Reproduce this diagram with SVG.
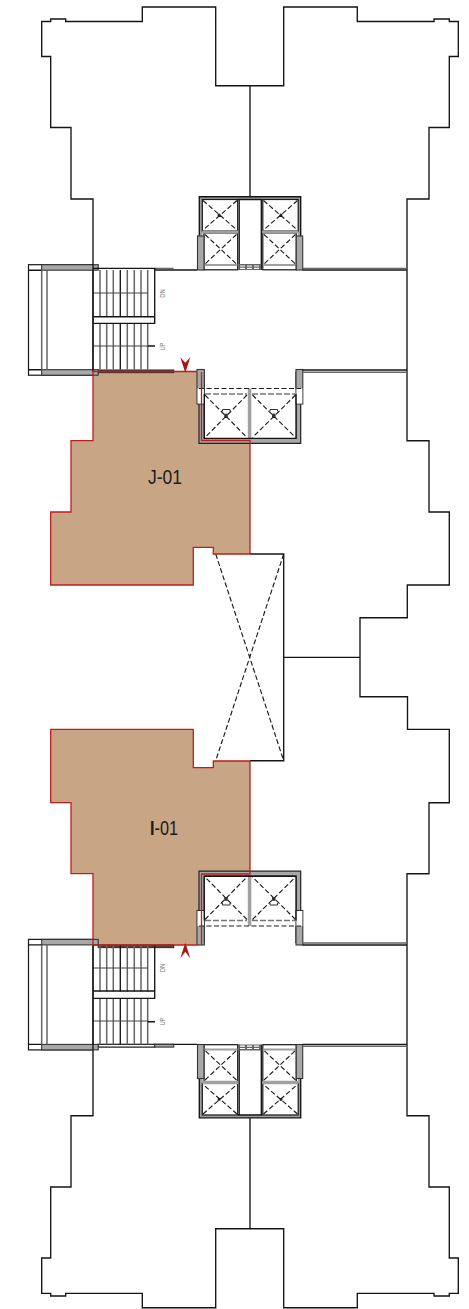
<svg xmlns="http://www.w3.org/2000/svg" width="469" height="1309" viewBox="0 0 469 1309">
<style>
.l{fill:none;stroke:#151515;stroke-width:1.35}
.g{fill:none;stroke:#666;stroke-width:1.5}
.w{fill:#a8a8a8;stroke:#333;stroke-width:1.1}
.wh{fill:#fff;stroke:#151515;stroke-width:1.2}
.f{fill:#a0a0a0;stroke:none}
.d{fill:none;stroke:#1c1c1c;stroke-width:1.15;stroke-dasharray:5 2.5}
.dg{fill:none;stroke:#777;stroke-width:1.5;stroke-dasharray:6 2}
.dw{fill:none;stroke:#fff;stroke-width:1.2;stroke-dasharray:5 2}
.r{fill:none;stroke:#bf1e1e;stroke-width:1.3}
.t{fill:#c8a585;stroke:none}
.a{fill:#ad1212;stroke:none}
.m{font-family:"Liberation Sans",Arial,sans-serif;font-size:7.5px;fill:#777}
.n{font-family:"Liberation Sans",Arial,sans-serif;font-size:21px;fill:#1c1c1c}
</style>
<defs>
<g id="liftEnd">
<rect class="f" x="199.3" y="196.7" width="101.4" height="3"/>
<rect class="f" x="199.3" y="196.7" width="3.2" height="40"/>
<rect class="f" x="298" y="196.7" width="2.7" height="40"/>
<path class="l" d="M199.3 236V196.7H300.7V236"/>
<rect class="wh" x="202.3" y="199.5" width="35.4" height="31.5"/>
<rect class="wh" x="262.8" y="199.5" width="35.4" height="31.5"/>
<rect class="wh" x="204" y="233" width="33.7" height="36.8"/>
<rect class="wh" x="262.8" y="233" width="33.5" height="36.8"/>
<rect class="f" x="202.3" y="230.5" width="36" height="3"/>
<rect class="f" x="262.3" y="230.5" width="36" height="3"/>
<rect class="f" x="204" y="264" width="33.5" height="2"/>
<rect class="f" x="263" y="264" width="33.2" height="2"/>
<path class="l" d="M239.2 199.5V270M261.3 199.5V270M238 199.5H262"/>
<rect x="239.2" y="264" width="22" height="6" fill="#666"/>
<path class="dw" d="M240 266H261M240 268.4H261"/>
<path class="d" d="M203 200.5L237 230M237 200.5L203 230M263.5 200.5L297.5 230M297.5 200.5L263.5 230M205 234.5L236.5 264M236.5 234.5L205 264M264 234.5L295.5 264M295.5 234.5L264 264"/>
<rect x="217.7" y="213.7" width="2.6" height="2.6" fill="#222"/>
<rect x="279.7" y="213.7" width="2.6" height="2.6" fill="#222"/>
<rect class="w" x="197.5" y="236" width="6.5" height="34"/>
<rect class="w" x="296.2" y="236" width="6.5" height="34"/>
</g>
<g id="liftMid">
<path d="M199 372H204.3V438.3H296V372H300.7V443.3H199Z" fill="#a8a8a8" stroke="#222" stroke-width="1.2"/>
<rect x="204.3" y="388.5" width="91.7" height="49.8" fill="#fff"/>
<rect class="f" x="247.8" y="388.5" width="3.5" height="50"/>
<rect class="w" x="197" y="369.5" width="7.3" height="34.5"/>
<rect class="w" x="296" y="369.5" width="6.8" height="34.5"/>
<rect x="197.6" y="388.5" width="6.2" height="15" fill="#fff"/>
<rect x="296.5" y="388.5" width="5.8" height="15" fill="#fff"/>
<path class="d" d="M199 388.5H301"/>
<path class="dg" d="M205 394H247M252 394H295"/>
<path class="l" d="M204.3 394V438.3H296V394"/>
<path class="d" d="M205 395L247 437.5M247 395L205 437.5M252.5 395L295.5 437.5M295.5 395L252.5 437.5"/>
<path d="M222.5 411.5V409.5H230V411.5M270 411.5V409.5H277.5V411.5" fill="none" stroke="#333" stroke-width="1"/>
<rect x="224.2" y="413.7" width="3.6" height="3.6" fill="#333"/>
<rect x="272" y="413.7" width="3.6" height="3.6" fill="#333"/>
</g>
<g id="balcony">
<rect class="wh" x="28.5" y="0" width="64.5" height="110.5" style="fill:none"/>
<rect class="w" x="41.7" y="0" width="56.5" height="5.5"/>
<rect class="w" x="41.7" y="105" width="56.5" height="5.5"/>
<path class="l" d="M28.5 5.5H41.7M28.5 105H41.7"/>
<path class="g" d="M41.7 5.5V105M47 5.5V105"/>
</g>
<g id="treads">
<path class="g" d="M100 0V46.5M106.7 0V46.5M113.3 0V46.5M127.3 0V46.5M134.3 0V46.5M141 0V46.5M147.7 0V46.5"/>
<path class="l" d="M120.3 0V46.5"/>
<path d="M93 23H147.7" fill="none" stroke="#444" stroke-width="1"/>
</g>
</defs>

<g id="tan-units">
<path class="t" d="M93 371.5H201.5V440.5H250V554H213.3V547.3H193.3V585H50.7V512H71V440.7H93Z"/>
<path class="t" d="M93 945H201.5V874H250V761H213.3V767.6H193.3V729.3H50.7V802.7H71V873.7H93Z"/>
</g>

<g id="outline-top">
<path class="l" d="M93 266V199H71V127.5H50.7V56.5H41.7V21.5H50.7V19H65.7V21.5H142.3V7H215.7V85.7H283.7V7H357.3V21.5H434V19H449.3V21.5H458.3V56.5H449.3V127.5H429V199H407V440.7H429V512H449.3V585H407.3V617.7H360V657.3"/>
<path class="l" d="M250 85.7V197"/>
</g>
<g id="outline-bottom">
<path class="l" d="M93 1050V1115.7H71V1187H50.7V1258H41.7V1293.3H50.7V1296H65.7V1293.3H142.3V1307.7H215.7V1228.7H283.7V1307.7H357.3V1293.3H434V1296H449.3V1293.3H458.3V1258H449.3V1187H429V1115.7H407V873.7H429V802.7H449.3V729.3H407.5V696.7H360V657.3"/>
<path class="l" d="M250 1117.5V1228.7"/>
</g>
<g id="atrium">
<path class="l" d="M250 554H283.7V760.7H250M283.7 657.3H360"/>
<path class="d" d="M215.7 554L283.7 760.7M283.7 554L215.7 760.7"/>
</g>

<g id="lift-top-end"><use href="#liftEnd"/></g>
<g id="lift-bottom-end"><use href="#liftEnd" transform="translate(0,1314.5) scale(1,-1)"/></g>
<g id="lift-j"><use href="#liftMid"/></g>
<g id="lift-i"><use href="#liftMid" transform="translate(0,1314.5) scale(1,-1)"/></g>

<g id="corridor-top">
<path class="l" d="M155 270H197M302.7 270H407M302.7 370H407"/>
<path class="g" d="M155 268.5H173.7M302.7 268.5H407M302.7 372.3H407"/>
<rect class="w" x="98.2" y="370" width="75.5" height="2.6" style="fill:#5b4030"/>
</g>
<g id="corridor-bottom">
<path class="l" d="M154 1044.3H197M302.7 1044.3H407M302.7 945H407"/>
<path class="g" d="M302.7 1046.2H407M302.7 943H407"/>
<rect class="wh" x="98.2" y="1044.3" width="56.5" height="2.8"/>
<rect class="w" x="154.7" y="1044.3" width="19" height="2.8"/>
<rect class="w" x="98.2" y="945" width="75.5" height="2.6" style="fill:#5b4030"/>
</g>

<g id="stair-top">
<use href="#balcony" transform="translate(0,264.7)"/>
<use href="#treads" transform="translate(0,270)"/>
<use href="#treads" transform="translate(0,323)"/>
<path class="l" d="M93 268.3H154.7V323.3H93M93 316.7H154.7M147.7 346H155M93 264V372"/>
<text class="m" transform="translate(165,293.5) rotate(-90)" text-anchor="middle" textLength="8.7" lengthAdjust="spacingAndGlyphs">DN</text>
<text class="m" transform="translate(165,346.5) rotate(-90)" text-anchor="middle" textLength="7.3" lengthAdjust="spacingAndGlyphs">UP</text>
</g>
<g id="stair-bottom">
<use href="#balcony" transform="translate(0,939.4)"/>
<use href="#treads" transform="translate(0,945)"/>
<use href="#treads" transform="translate(0,998)"/>
<path class="l" d="M154.7 945V998.3H93M93 991H154.7M147.7 1021.7H155M93 945V1050"/>
<text class="m" transform="translate(165,968) rotate(-90)" text-anchor="middle" textLength="8.7" lengthAdjust="spacingAndGlyphs">DN</text>
<text class="m" transform="translate(165,1021.7) rotate(-90)" text-anchor="middle" textLength="7.3" lengthAdjust="spacingAndGlyphs">UP</text>
</g>

<g id="unit-j">
<path class="r" d="M197 371.5H93V440.7H71V512H50.7V585H193.3V547.3H213.3V554H250V440.5H201.5V372"/>
<path class="a" d="M180.3 357.3L185.3 362.7L190.3 357.3L185.3 372.7Z"/>
<text class="n" x="148" y="484" textLength="34" lengthAdjust="spacingAndGlyphs">J-01</text>
</g>
<g id="unit-i">
<path class="r" d="M197 945H93V873.7H71V802.7H50.7V729.3H193.3V767.6H213.3V761H250V874H201.5V945"/>
<path class="a" d="M180.3 958.3L185.3 951.7L190.3 958.3L185.3 942.7Z"/>
<text class="n" x="150" y="835" textLength="28" lengthAdjust="spacingAndGlyphs"><tspan font-weight="bold">I</tspan>-01</text>
</g>
</svg>
